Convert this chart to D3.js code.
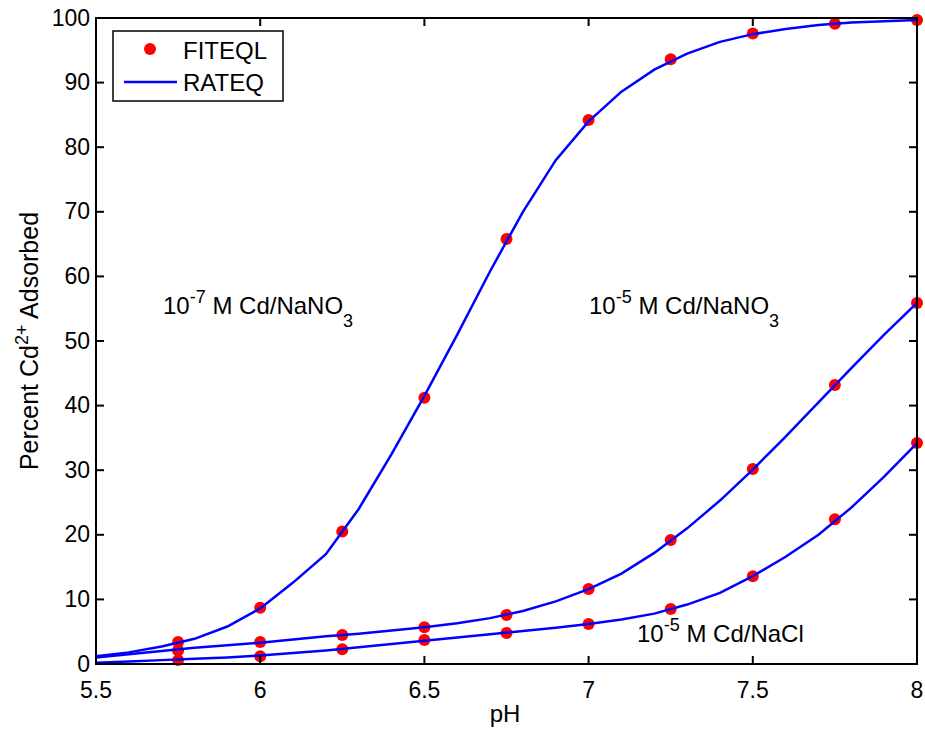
<!DOCTYPE html>
<html><head><meta charset="utf-8">
<script src="https://cdn.jsdelivr.net/npm/d3@7"></script>
<style>body{margin:0;background:#fff}svg{display:block}text{font-family:"Liberation Sans",Arial,sans-serif;fill:#000}</style>
</head><body><svg id="c" width="925" height="729"></svg>
<script>
const xTicks = [5.5, 6, 6.5, 7, 7.5, 8];
const xTickLabels = ["5.5", "6", "6.5", "7", "7.5", "8"];
const yTicks = [0, 10, 20, 30, 40, 50, 60, 70, 80, 90, 100];

// FITEQL points
const pointPH = [5.75, 6, 6.25, 6.5, 6.75, 7, 7.25, 7.5, 7.75, 8];
const fit7NaNO3 = [3.4, 8.7, 20.5, 41.2, 65.8, 84.2, 93.6, 97.6, 99.1, 99.7];
const fit5NaNO3 = [2.1, 3.4, 4.5, 5.7, 7.6, 11.6, 19.2, 30.2, 43.2, 55.9];
const fit5NaCl  = [0.6, 1.2, 2.3, 3.7, 4.8, 6.2, 8.5, 13.6, 22.4, 34.2];

// RATEQ curves
const linePH = [5.5,5.6,5.7,5.8,5.9,6.0,6.1,6.2,6.3,6.4,6.5,6.6,6.7,6.8,6.9,7.0,7.1,7.2,7.3,7.4,7.5,7.6,7.7,7.8,7.9,8.0];
const rat7NaNO3 = [1.2,1.8,2.7,3.9,5.8,8.6,12.6,17.0,24.0,32.5,41.5,51.0,60.8,70.0,78.0,84.0,88.6,92.0,94.5,96.3,97.5,98.3,98.9,99.3,99.5,99.7];
const rat5NaNO3 = [1.0,1.5,2.0,2.5,2.9,3.3,3.8,4.3,4.7,5.2,5.7,6.3,7.1,8.2,9.7,11.6,14.0,17.2,21.0,25.3,30.1,35.2,40.5,45.8,51.0,55.9];
const rat5NaCl  = [0.2,0.4,0.6,0.8,1.0,1.3,1.7,2.1,2.6,3.1,3.6,4.1,4.6,5.1,5.6,6.2,6.9,7.8,9.2,11.0,13.6,16.6,20.0,24.2,29.0,34.2];

const svg = d3.select("#c");
const L = 96, R = 917, T = 18, B = 664;
const x = d3.scaleLinear().domain([5.5, 8]).range([L, R]);
const y = d3.scaleLinear().domain([0, 100]).range([B, T]);
const FS = 24, TFS = 23;

const line = d3.line().x(d => x(d[0])).y(d => y(d[1]));
[fit7NaNO3, fit5NaNO3, fit5NaCl].forEach(s => {
  svg.append("g").selectAll("circle").data(pointPH.map((p, i) => [p, s[i]])).join("circle")
    .attr("cx", d => x(d[0])).attr("cy", d => y(d[1])).attr("r", 6).attr("fill", "#ff0000");
});
[rat7NaNO3, rat5NaNO3, rat5NaCl].forEach(s => {
  svg.append("path").datum(linePH.map((p, i) => [p, s[i]]))
    .attr("d", line).attr("fill", "none").attr("stroke", "#0000ff").attr("stroke-width", 2.5);
});

// axes frame
const ax = svg.append("g");
ax.append("rect").attr("x", L).attr("y", T).attr("width", R - L).attr("height", B - T)
  .attr("fill", "none").attr("stroke", "#000").attr("stroke-width", 2);
const TL = 8;
xTicks.forEach((t, i) => {
  ax.append("line").attr("x1", x(t)).attr("x2", x(t)).attr("y1", B).attr("y2", B - TL).attr("stroke", "#000").attr("stroke-width", 2);
  ax.append("line").attr("x1", x(t)).attr("x2", x(t)).attr("y1", T).attr("y2", T + TL).attr("stroke", "#000").attr("stroke-width", 2);
  ax.append("text").attr("x", x(t)).attr("y", 697.5).attr("text-anchor", "middle").attr("font-size", TFS).text(xTickLabels[i]);
});
yTicks.forEach(t => {
  ax.append("line").attr("x1", L).attr("x2", L + TL).attr("y1", y(t)).attr("y2", y(t)).attr("stroke", "#000").attr("stroke-width", 2);
  ax.append("line").attr("x1", R).attr("x2", R - TL).attr("y1", y(t)).attr("y2", y(t)).attr("stroke", "#000").attr("stroke-width", 2);
  ax.append("text").attr("x", 90).attr("y", y(t) + 7.5).attr("text-anchor", "end").attr("font-size", TFS).text(t);
});

// axis labels
svg.append("text").attr("x", 505).attr("y", 722).attr("text-anchor", "middle").attr("font-size", FS).text("pH");
const yl = svg.append("text").attr("transform", "translate(38,341) rotate(-90)").attr("text-anchor", "middle").attr("font-size", 25);
yl.append("tspan").text("Percent Cd");
yl.append("tspan").attr("dy", -10).attr("font-size", 18).text("2+");
yl.append("tspan").attr("dy", 10).text(" Adsorbed");

// annotations
function annot(xp, yp, exp, rest, sub) {
  const t = svg.append("text").attr("x", xp).attr("y", yp).attr("font-size", FS);
  t.append("tspan").text("10");
  t.append("tspan").attr("dy", -11).attr("font-size", 18).text(exp);
  t.append("tspan").attr("dy", 11).text(" " + rest);
  if (sub) t.append("tspan").attr("dy", 13).attr("font-size", 18).text(sub);
}
annot(163, 314, "-7", "M Cd/NaNO", "3");
annot(589, 314, "-5", "M Cd/NaNO", "3");
annot(637, 642, "-5", "M Cd/NaCl", null);

// legend
const lg = svg.append("g");
lg.append("rect").attr("x", 113).attr("y", 31).attr("width", 170).attr("height", 70)
  .attr("fill", "#fff").attr("stroke", "#000").attr("stroke-width", 1.5);
lg.append("circle").attr("cx", 150).attr("cy", 49).attr("r", 6).attr("fill", "#ff0000");
lg.append("line").attr("x1", 124).attr("x2", 177).attr("y1", 82).attr("y2", 82).attr("stroke", "#0000ff").attr("stroke-width", 2.5);
lg.append("text").attr("x", 183).attr("y", 59).attr("font-size", FS).text("FITEQL");
lg.append("text").attr("x", 183).attr("y", 91).attr("font-size", FS).text("RATEQ");
</script></body></html>
